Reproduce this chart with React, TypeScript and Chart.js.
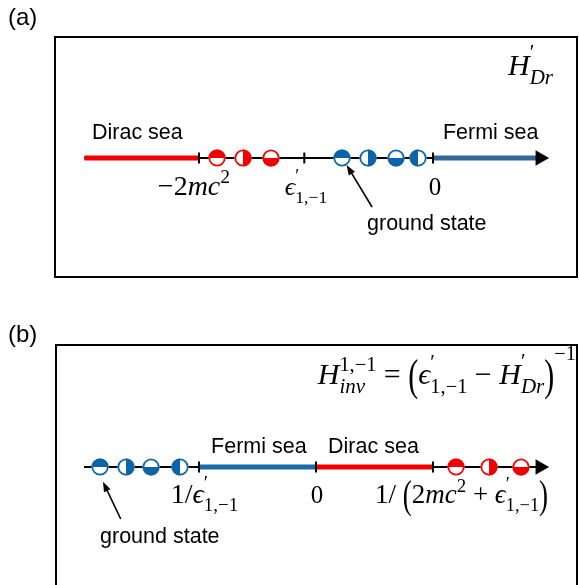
import React, { useEffect, useRef } from 'react';
import { Chart, registerables } from 'chart.js';
Chart.register(...registerables);

// ---------------- data ----------------
// Panel (a): spectrum of H'_Dr (energy units where 2mc^2 = 2)
const A_TICKS = [-2, -1.1, 0];
const A_AXIS = [-2.98, 0.9];
const A_DIRAC_SEA = [-2.98, -2];
const A_FERMI_SEA = [0, 0.88];
const A_ARROW_HEAD = [0.915];
const A_RED_LEVELS = [-1.846, -1.624, -1.385];
const A_RED_FILL = ['top', 'right', 'bottom'];
const A_BLUE_LEVELS = [-0.778, -0.556, -0.316, -0.128];
const A_BLUE_FILL = ['top', 'right', 'bottom', 'left'];

// Panel (b): spectrum of H_inv^{1,-1}
const B_TICKS = [-1, 0, 1];
const B_AXIS = [-1.983, 1.9];
const B_FERMI_SEA = [-1, 0];
const B_DIRAC_SEA = [0, 1];
const B_ARROW_HEAD = [1.915];
const B_BLUE_LEVELS = [-1.846, -1.624, -1.41, -1.162];
const B_BLUE_FILL = ['top', 'right', 'bottom', 'left'];
const B_RED_LEVELS = [1.197, 1.479, 1.752];
const B_RED_FILL = ['top', 'right', 'bottom'];

// ---------------- styles ----------------
const RED = '#f20000';
const BLUE = '#0e64a8';
const BLUE_LINE_A = '#336699';
const BLUE_LINE_B = '#1a69aa';
const SANS = '"Liberation Sans", Arial, sans-serif';
const SERIF = '"Liberation Serif", "DejaVu Serif", serif';

type Seg = { t: string; it?: boolean; s?: number; dy?: number; sy?: number } | { stack: Seg[] };

const PAREN_SY = 1.5;
const PAREN_DY = -0.155 + 0.235 * PAREN_SY;
const EPS: Seg[] = [
  { t: 'ϵ', it: true },
  { stack: [{ t: '′', s: 0.7, dy: -0.5 }, { t: '1,−1', s: 0.68, dy: 0.3 }] },
];
const HDR: Seg[] = [
  { t: 'H', it: true },
  { stack: [{ t: '′', s: 0.7, dy: -0.55 }, { t: 'Dr', it: true, s: 0.7, dy: 0.3 }] },
];
const LP: Seg = { t: '(', sy: PAREN_SY, dy: PAREN_DY };
const RP: Seg = { t: ')', sy: PAREN_SY, dy: PAREN_DY };
const MINUS_2MC2: Seg[] = [{ t: '−2' }, { t: 'mc', it: true }, { t: '2', s: 0.7, dy: -0.42 }];
const ZERO: Seg[] = [{ t: '0' }];
const INV_EPS: Seg[] = [{ t: '1/' }, ...EPS];
const INV_DIRAC: Seg[] = [
  { t: '1/ ' }, LP,
  { t: '2' }, { t: 'mc', it: true }, { t: '2', s: 0.7, dy: -0.42 }, { t: ' + ' },
  ...EPS, RP,
];
const HINV: Seg[] = [
  { t: 'H', it: true },
  { stack: [{ t: '1,−1', s: 0.68, dy: -0.45 }, { t: 'inv', it: true, s: 0.7, dy: 0.3 }] },
  { t: ' = ' }, LP, ...EPS, { t: ' − ' }, ...HDR,
  RP, { t: '−1', s: 0.68, dy: -0.8 },
];

function fontOf(seg: any, size: number) {
  return `${seg.it ? 'italic ' : ''}${(size * (seg.s ?? 1)).toFixed(1)}px ${SERIF}`;
}
function segWidth(ctx: CanvasRenderingContext2D, seg: any, size: number): number {
  if (seg.stack) return Math.max(...seg.stack.map((s: any) => segWidth(ctx, s, size)));
  ctx.font = fontOf(seg, size);
  return ctx.measureText(seg.t).width;
}
function drawMath(ctx: CanvasRenderingContext2D, segs: Seg[], x: number, y: number, size: number, align: string) {
  const total = segs.reduce((a, s) => a + segWidth(ctx, s, size), 0);
  let cx = align === 'center' ? x - total / 2 : align === 'right' ? x - total : x;
  ctx.textAlign = 'left';
  ctx.textBaseline = 'alphabetic';
  ctx.fillStyle = '#000';
  for (const s of segs as any[]) {
    const w = segWidth(ctx, s, size);
    const parts = s.stack ? s.stack : [s];
    for (const p of parts) {
      ctx.font = fontOf(p, size);
      ctx.save();
      ctx.translate(cx, y + (p.dy ?? 0) * size);
      ctx.scale(1, p.sy ?? 1);
      ctx.fillText(p.t, 0, 0);
      ctx.restore();
    }
    cx += w;
  }
}

function halfCircle(color: string, side: string, r = 9) {
  const s = Math.ceil(2 * r + 2);
  const c = document.createElement('canvas');
  c.width = s; c.height = s;
  const g = c.getContext('2d')!;
  const cx = s / 2, cy = s / 2;
  g.beginPath(); g.arc(cx, cy, r - 0.5, 0, Math.PI * 2); g.fillStyle = '#fff'; g.fill();
  const start: number = ({ top: Math.PI, bottom: 0, right: -Math.PI / 2, left: Math.PI / 2 } as any)[side];
  g.beginPath(); g.moveTo(cx, cy); g.arc(cx, cy, r - 0.5, start, start + Math.PI); g.closePath();
  g.fillStyle = color; g.fill();
  g.beginPath(); g.arc(cx, cy, r - 1.3, 0, Math.PI * 2); g.lineWidth = 1.8; g.strokeStyle = color; g.stroke();
  return c;
}

const seg = (a: number[]) => a.map((x) => ({ x, y: 0 }));
const pts = (a: number[]) => a.map((x) => ({ x, y: 0 }));

function lineDs(data: number[], color: string, width: number, order: number) {
  return { data: seg(data), showLine: true, borderColor: color, borderWidth: width, pointRadius: 0, order, clip: false as any };
}
function tickDs(data: number[]) {
  return { data: pts(data), showLine: false, pointStyle: 'line', pointRotation: 90, pointRadius: 5.5,
    pointBorderColor: '#000', pointBorderWidth: 2, order: 5, clip: false as any };
}
function headDs(data: number[]) {
  return { data: pts(data), showLine: false, pointStyle: 'triangle', pointRotation: 90, pointRadius: 9,
    pointBackgroundColor: '#000', pointBorderColor: '#000', pointBorderWidth: 0, order: 5, clip: false as any };
}
function levelDs(data: number[], fills: string[], color: string) {
  return { data: pts(data), showLine: false, pointStyle: fills.map((f) => halfCircle(color, f)), pointRadius: 9,
    order: 1, clip: false as any };
}

type Panel = {
  xr: [number, number]; yr: [number, number];
  datasets: any[];
  annotate: (ctx: CanvasRenderingContext2D, X: (v: number) => number, Y: (v: number) => number, w: number, h: number) => void;
};

function sansText(ctx: CanvasRenderingContext2D, t: string, x: number, y: number, size = 21.5) {
  ctx.font = `${size}px ${SANS}`;
  ctx.fillStyle = '#000';
  ctx.textAlign = 'left';
  ctx.textBaseline = 'alphabetic';
  ctx.fillText(t, x, y);
}
function arrow(ctx: CanvasRenderingContext2D, x0: number, y0: number, x1: number, y1: number) {
  const a = Math.atan2(y1 - y0, x1 - x0);
  const L = 10, W = 3.6;
  ctx.strokeStyle = '#000'; ctx.lineWidth = 1.6;
  ctx.beginPath(); ctx.moveTo(x0, y0);
  ctx.lineTo(x1 - Math.cos(a) * L * 0.8, y1 - Math.sin(a) * L * 0.8); ctx.stroke();
  ctx.fillStyle = '#000';
  ctx.beginPath(); ctx.moveTo(x1, y1);
  ctx.lineTo(x1 - Math.cos(a) * L - Math.sin(a) * W, y1 - Math.sin(a) * L + Math.cos(a) * W);
  ctx.lineTo(x1 - Math.cos(a) * L + Math.sin(a) * W, y1 - Math.sin(a) * L - Math.cos(a) * W);
  ctx.closePath(); ctx.fill();
}

const panelA: Panel = {
  xr: [-3.701, 1.248], yr: [-1.32, 1.58],
  datasets: [
    lineDs(A_AXIS, '#000', 2, 9),
    lineDs(A_DIRAC_SEA, RED, 5, 8),
    lineDs(A_FERMI_SEA, BLUE_LINE_A, 5, 8),
    tickDs(A_TICKS),
    headDs(A_ARROW_HEAD),
    levelDs(A_RED_LEVELS, A_RED_FILL, RED),
    levelDs(A_BLUE_LEVELS, A_BLUE_FILL, BLUE),
  ],
  annotate: (ctx, X, Y) => {
    ctx.strokeStyle = '#000'; ctx.lineWidth = 2;
    ctx.strokeRect(55, 37, 522, 240);
    sansText(ctx, '(a)', 8, 25, 24);
    sansText(ctx, 'Dirac sea', X(-2.915), Y(0.19));
    sansText(ctx, 'Fermi sea', X(0.085), Y(0.19));
    sansText(ctx, 'ground state', X(-0.564), Y(-0.72));
    arrow(ctx, X(-0.521), Y(-0.49), X(-0.738), Y(-0.07));
    drawMath(ctx, MINUS_2MC2, X(-2.043), Y(-0.37), 28, 'center');
    drawMath(ctx, EPS, X(-1.085), Y(-0.37), 26, 'center');
    drawMath(ctx, ZERO, X(0.017), Y(-0.37), 25, 'center');
    drawMath(ctx, HDR, X(0.641), Y(0.83), 30, 'left');
  },
};

const panelB: Panel = {
  xr: [-2.701, 2.248], yr: [-1.18, 1.77],
  datasets: [
    lineDs(B_AXIS, '#000', 2, 9),
    lineDs(B_FERMI_SEA, BLUE_LINE_B, 5, 8),
    lineDs(B_DIRAC_SEA, RED, 5, 8),
    tickDs(B_TICKS),
    headDs(B_ARROW_HEAD),
    levelDs(B_BLUE_LEVELS, B_BLUE_FILL, BLUE),
    levelDs(B_RED_LEVELS, B_RED_FILL, RED),
  ],
  annotate: (ctx, X, Y, w, h) => {
    ctx.strokeStyle = '#000'; ctx.lineWidth = 2;
    ctx.beginPath(); ctx.moveTo(56, h + 5); ctx.lineTo(56, 55); ctx.lineTo(577, 55); ctx.lineTo(577, h + 5); ctx.stroke();
    sansText(ctx, '(b)', 8, 52, 24);
    sansText(ctx, 'Fermi sea', X(-0.897), Y(0.14));
    sansText(ctx, 'Dirac sea', X(0.103), Y(0.14));
    sansText(ctx, 'ground state', X(-1.846), Y(-0.76));
    arrow(ctx, X(-1.669), Y(-0.52), X(-1.821), Y(-0.147));
    drawMath(ctx, INV_EPS, X(-0.953), Y(-0.36), 28, 'center');
    drawMath(ctx, ZERO, X(0.009), Y(-0.36), 25, 'center');
    drawMath(ctx, INV_DIRAC, X(1.244), Y(-0.36), 27, 'center');
    drawMath(ctx, HINV, X(2.222), Y(0.83), 30, 'right');
  },
};

function build(p: Panel) {
  return {
    type: 'scatter' as const,
    data: { datasets: p.datasets },
    options: {
      responsive: false,
      animation: false as const,
      events: [] as any[],
      layout: { padding: 0, autoPadding: false },
      plugins: { legend: { display: false }, tooltip: { enabled: false } },
      scales: {
        x: { type: 'linear' as const, min: p.xr[0], max: p.xr[1], display: false },
        y: { type: 'linear' as const, min: p.yr[0], max: p.yr[1], display: false },
      },
    },
    plugins: [{
      id: 'annot',
      beforeDraw: (chart: any) => {
        const c = chart.ctx;
        c.save(); c.fillStyle = '#fff'; c.fillRect(0, 0, chart.width, chart.height); c.restore();
      },
      afterDraw: (chart: any) => {
        const c = chart.ctx;
        c.save();
        p.annotate(c, (v) => chart.scales.x.getPixelForValue(v), (v) => chart.scales.y.getPixelForValue(v), chart.width, chart.height);
        c.restore();
      },
    }],
  };
}

export default function App() {
  const refA = useRef<HTMLCanvasElement>(null);
  const refB = useRef<HTMLCanvasElement>(null);
  useEffect(() => {
    const a = new Chart(refA.current!, build(panelA) as any);
    const b = new Chart(refB.current!, build(panelB) as any);
    return () => { a.destroy(); b.destroy(); };
  }, []);
  return (
    <div style={{ position: 'absolute', left: 0, top: 0, width: 579, height: 585, background: '#fff' }}>
      <canvas ref={refA} width={579} height={290} style={{ display: 'block', width: 579, height: 290 }} />
      <canvas ref={refB} width={579} height={295} style={{ display: 'block', width: 579, height: 295 }} />
    </div>
  );
}
